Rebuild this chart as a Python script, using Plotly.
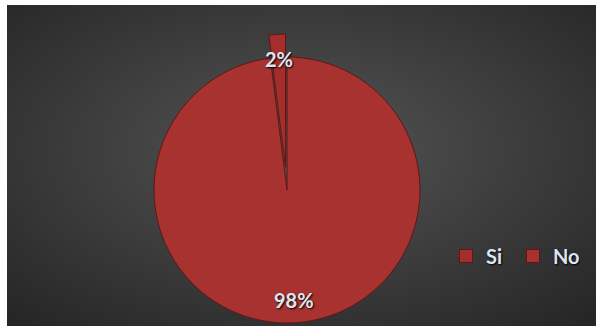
import math
import base64
import plotly.graph_objects as go

# ---- data ----
labels = ["Si", "No"]
values = [2, 98]
colors = ["#a42e2c", "#a8322f"]
edge_color = "#5e1716"

W, H = 596, 326
total = sum(values)
pct_text = [f"{round(v / total * 100)}%" for v in values]

# pie geometry (pixels)
cx, cy, R = 287.0, 190.0, 133.0
explode_px = 23.0
label_radius = [0.985, 0.83]
# first slice (Si) ends at 12 o'clock, drawn clockwise
rotation = -values[0] / total * 360.0


def px_to_paper_x(px):
    return px / W


def px_to_paper_y(py):
    return 1 - py / H


# slice mid angles, clockwise from 12 o'clock (degrees)
mids = []
acc = rotation
for v in values:
    span = v / total * 360.0
    mids.append(acc + span / 2)
    acc += span


def dir_vec(cw_deg):
    a = math.radians(cw_deg)
    return math.sin(a), -math.cos(a)  # (dx, dy) in screen pixels


def domain_for(center_x, center_y):
    return dict(
        x=[px_to_paper_x(center_x - R), px_to_paper_x(center_x + R)],
        y=[px_to_paper_y(center_y + R), px_to_paper_y(center_y - R)],
    )


# exploded Si slice center
ddx, ddy = dir_vec(mids[0])
ecx, ecy = cx + ddx * explode_px, cy + ddy * explode_px

fig = go.Figure()

# base pie (No slice)
fig.add_trace(go.Pie(
    labels=labels, values=values, sort=False, direction="clockwise",
    rotation=rotation, textinfo="none", showlegend=False,
    hoverinfo="label+percent",
    marker=dict(colors=["rgba(0,0,0,0)", colors[1]],
                line=dict(color=["rgba(0,0,0,0)", edge_color], width=1)),
    domain=domain_for(cx, cy),
))

# exploded Si slice
fig.add_trace(go.Pie(
    labels=labels, values=values, sort=False, direction="clockwise",
    rotation=rotation, textinfo="none", showlegend=False,
    hoverinfo="label+percent",
    marker=dict(colors=[colors[0], "rgba(0,0,0,0)"],
                line=dict(color=[edge_color, "rgba(0,0,0,0)"], width=1)),
    domain=domain_for(ecx, ecy),
))

# legend entries
for lab, col in zip(labels, colors):
    fig.add_trace(go.Scatter(
        x=[None], y=[None], mode="markers", name=lab,
        marker=dict(symbol="square", size=13, color=col,
                    line=dict(color=edge_color, width=1)),
    ))

label_font = dict(family="Lato", size=20, color="#dce6f2", weight="bold",
                  shadow="1px 1px 2px #000000")

annotations = []
for i, t in enumerate(pct_text):
    dx, dy = dir_vec(mids[i])
    r = label_radius[i] * R
    annotations.append(dict(
        x=px_to_paper_x(cx + dx * r), y=px_to_paper_y(cy + dy * r),
        xref="paper", yref="paper", text=t, showarrow=False,
        font=label_font, xanchor="center", yanchor="middle",
    ))

svg = (
    "<svg xmlns='http://www.w3.org/2000/svg' width='589' height='321' "
    "viewBox='0 0 589 321' preserveAspectRatio='none'>"
    "<defs><radialGradient id='g' cx='0.5' cy='0.45' r='0.72'>"
    "<stop offset='0' stop-color='#555555'/>"
    "<stop offset='1' stop-color='#262626'/>"
    "</radialGradient></defs>"
    "<rect x='0' y='0' width='589' height='321' fill='url(#g)'/></svg>"
)
src = "data:image/svg+xml;base64," + base64.b64encode(svg.encode()).decode()

fig.update_layout(
    width=W, height=H,
    margin=dict(l=0, r=0, t=0, b=0),
    paper_bgcolor="white", plot_bgcolor="rgba(0,0,0,0)",
    xaxis=dict(visible=False), yaxis=dict(visible=False),
    images=[dict(source=src, xref="paper", yref="paper",
                 x=7 / W, y=1 - 5 / H, sizex=(W - 7) / W, sizey=(H - 5) / H,
                 xanchor="left", yanchor="top", sizing="stretch", layer="below")],
    annotations=annotations,
    showlegend=True,
    legend=dict(orientation="h", x=446 / W, y=1 - 256 / H,
                xanchor="left", yanchor="middle",
                bgcolor="rgba(0,0,0,0)", itemwidth=30, entrywidth=22,
                font=dict(family="Lato", size=20, color="#dce6f2",
                          weight="bold", shadow="1px 1px 2px #000000")),
)

fig.write_html("out.html")
